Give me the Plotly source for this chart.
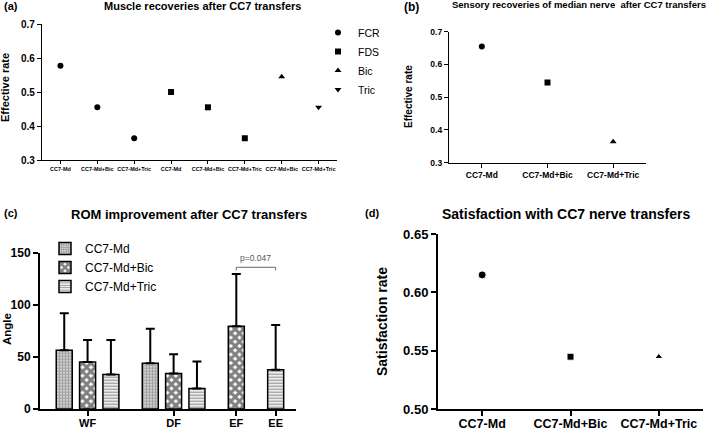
import plotly.graph_objects as go

# ---------------- data ----------------
a_categories = ["CC7-Md", "CC7-Md+Bic", "CC7-Md+Tric", "CC7-Md", "CC7-Md+Bic",
                "CC7-Md+Tric", "CC7-Md+Bic", "CC7-Md+Tric"]
a_series = ["FCR", "FDS", "Bic", "Tric"]
a_fcr = [0.577, 0.455, 0.364]
a_fds = [0.500, 0.455, 0.364]
a_bic = [0.545]
a_tric = [0.455]
a_yticks = [0.3, 0.4, 0.5, 0.6, 0.7]

b_categories = ["CC7-Md", "CC7-Md+Bic", "CC7-Md+Tric"]
b_values = [0.655, 0.545, 0.364]
b_yticks = [0.3, 0.4, 0.5, 0.6, 0.7]

c_groups = ["WF", "DF", "EF", "EE"]
c_series = ["CC7-Md", "CC7-Md+Bic", "CC7-Md+Tric"]
c_md = [56.4, 43.9, None, None]
c_md_sd = [35.6, 33.2, None, None]
c_bic = [45.2, 34.1, 79.3, None]
c_bic_sd = [21.0, 18.4, 50.3, None]
c_tric = [33.1, 19.7, None, 37.6]
c_tric_sd = [33.1, 25.8, None, 43.0]
c_yticks = [0, 50, 100, 150]
c_pvalue_text = "p=0.047"
c_pvalue_level = 136
c_pvalue_pair = ("EF", "EE")

d_categories = ["CC7-Md", "CC7-Md+Bic", "CC7-Md+Tric"]
d_values = [0.615, 0.545, 0.545]
d_yticks = [0.50, 0.55, 0.60, 0.65]

# ---------------- style ----------------
W, H = 709, 432
FONT = "Arial, Liberation Sans, sans-serif"
BAR_W = 16.0
PITCH_IN = 23.3
PITCH_OUT = 39.3


def px_x(v):
    return v / W


def px_y(v):
    return 1 - v / H


fig = go.Figure()

# ---------- panel (a) ----------
a_values = [a_fcr, a_fds, a_bic, a_tric]
a_symbols = ["circle", "square", "triangle-up", "triangle-down"]
offset = 0
for name, vals, sym in zip(a_series, a_values, a_symbols):
    xs = list(range(offset, offset + len(vals)))
    offset += len(vals)
    fig.add_trace(go.Scatter(
        x=xs, y=vals, mode="markers", name=name, legend="legend",
        marker=dict(symbol=sym, size=6, color="black", opacity=1),
        xaxis="x", yaxis="y"))

# ---------- panel (b) ----------
b_symbols = ["circle", "square", "triangle-up"]
fig.add_trace(go.Scatter(
    x=list(range(len(b_categories))), y=b_values, mode="markers", showlegend=False,
    marker=dict(symbol=b_symbols, size=6, color="black", opacity=1),
    xaxis="x2", yaxis="y2"))

# ---------- panel (c) ----------
c_data = {"CC7-Md": (c_md, c_md_sd), "CC7-Md+Bic": (c_bic, c_bic_sd),
          "CC7-Md+Tric": (c_tric, c_tric_sd)}
pos = {}
centers = []
cur = 0.0
for gi, g in enumerate(c_groups):
    members = [s for s in c_series if c_data[s][0][gi] is not None]
    xs = []
    for k, s in enumerate(members):
        if k == 0 and gi > 0:
            cur += PITCH_OUT
        elif k > 0:
            cur += PITCH_IN
        pos[(g, s)] = cur
        xs.append(cur)
    centers.append(sum(xs) / len(xs))

c_patterns = {
    "CC7-Md": dict(shape="+", size=3, solidity=0.8, fgcolor="#444", bgcolor="white"),
    "CC7-Md+Bic": dict(shape="x", size=6, solidity=0.75, fgcolor="black", bgcolor="white"),
    "CC7-Md+Tric": dict(shape="-", size=3, solidity=0.45, fgcolor="#222", bgcolor="white"),
}
for s in c_series:
    vals, sds = c_data[s]
    xs, ys, es = [], [], []
    for gi, g in enumerate(c_groups):
        if vals[gi] is not None:
            xs.append(pos[(g, s)])
            ys.append(vals[gi])
            es.append(sds[gi])
    fig.add_trace(go.Bar(
        x=xs, y=ys, name=s, legend="legend2", width=BAR_W,
        marker=dict(color="white", line=dict(color="black", width=1.5),
                    pattern=c_patterns[s]),
        error_y=dict(type="data", array=es, arrayminus=[0] * len(es), symmetric=False,
                     color="black", thickness=2, width=4.5),
        xaxis="x3", yaxis="y3"))

# ---------- panel (d) ----------
fig.add_trace(go.Scatter(
    x=list(range(len(d_categories))), y=d_values, mode="markers", showlegend=False,
    marker=dict(symbol=["circle", "square", "triangle-up"], size=[8, 7, 7],
                color="black", opacity=1),
    xaxis="x4", yaxis="y4"))


def axis(domain, lw=1.3, ticklen=4, fsize=10, **kw):
    d = dict(domain=domain, showline=True, linecolor="black", linewidth=lw,
             ticks="outside", ticklen=ticklen, tickwidth=lw, tickcolor="black",
             showgrid=False, zeroline=False, mirror=False,
             tickfont=dict(family=FONT, size=fsize, color="black", weight="bold"))
    d.update(kw)
    return d


last_center = pos[(c_groups[-1], [s for s in c_series if c_data[s][0][-1] is not None][-1])]

fig.update_layout(
    width=W, height=H, margin=dict(l=0, r=0, t=0, b=0, autoexpand=False),
    paper_bgcolor="white", plot_bgcolor="white", showlegend=True,
    font=dict(family=FONT, color="black"),
    barmode="overlay",
    xaxis=axis([px_x(42), px_x(337)], ticklen=3, fsize=5.5, anchor="y",
               range=[-0.5, len(a_categories) - 0.5],
               tickmode="array", tickvals=list(range(len(a_categories))), ticktext=a_categories),
    yaxis=axis([px_y(160), px_y(24)], anchor="x", range=[0.3, 0.7],
               tickmode="array", tickvals=a_yticks, tickformat=".1f"),
    xaxis2=axis([px_x(449), px_x(646)], fsize=8.5, anchor="y2",
                range=[-0.5, len(b_categories) - 0.5],
                tickmode="array", tickvals=list(range(len(b_categories))), ticktext=b_categories),
    yaxis2=axis([px_y(162.7), px_y(31.7)], fsize=8.5, anchor="x2", range=[0.3, 0.7],
                tickmode="array", tickvals=b_yticks, tickformat=".1f"),
    xaxis3=axis([px_x(40), px_x(296)], lw=2, ticklen=5, fsize=11, anchor="y3",
                range=[-24.2, last_center + 20.3], ticklabelstandoff=-2,
                tickmode="array", tickvals=centers, ticktext=c_groups),
    yaxis3=axis([px_y(409), px_y(252.7)], lw=2, ticklen=5, fsize=12, anchor="x3",
                range=[0, 150], tickmode="array", tickvals=c_yticks),
    xaxis4=axis([px_x(438), px_x(703)], lw=2, ticklen=5, fsize=12.5, anchor="y4",
                range=[-0.5, len(d_categories) - 0.5], ticklabelstandoff=-3,
                tickmode="array", tickvals=list(range(len(d_categories))), ticktext=d_categories),
    yaxis4=axis([px_y(409.3), px_y(234)], lw=2, ticklen=5, fsize=13, anchor="x4",
                range=[0.5, 0.65], tickmode="array", tickvals=d_yticks, tickformat=".2f"),
    legend=dict(x=px_x(318), y=px_y(18), xanchor="left", yanchor="top",
                font=dict(family=FONT, size=10.5, color="black"),
                bgcolor="rgba(0,0,0,0)", borderwidth=0, tracegroupgap=0),
    legend2=dict(x=px_x(45), y=px_y(234), xanchor="left", yanchor="top",
                 font=dict(family=FONT, size=12, color="black"),
                 bgcolor="rgba(0,0,0,0)", borderwidth=0, tracegroupgap=0),
)

# p-value bracket
xa = pos[(c_pvalue_pair[0], "CC7-Md+Bic")]
xb = pos[(c_pvalue_pair[1], "CC7-Md+Tric")]
tick = 3
fig.add_shape(type="path", xref="x3", yref="y3",
              path=f"M {xa} {c_pvalue_level - tick} L {xa} {c_pvalue_level} "
                   f"L {xb} {c_pvalue_level} L {xb} {c_pvalue_level - tick}",
              line=dict(color="#666", width=1))
fig.add_annotation(x=(xa + xb) / 2, y=c_pvalue_level, xref="x3", yref="y3",
                   text=c_pvalue_text, showarrow=False, yanchor="bottom", yshift=2,
                   font=dict(family=FONT, size=8.5, color="#555"))


def label(text, x, y, size, bold=True, angle=0, xanchor="center"):
    fig.add_annotation(x=px_x(x), y=px_y(y), xref="paper", yref="paper", text=text,
                       showarrow=False, textangle=angle, xanchor=xanchor, yanchor="middle",
                       font=dict(family=FONT, size=size, color="black",
                                 weight="bold" if bold else "normal"))


# panel letters
label("(a)", 2, 6, 11, xanchor="left")
label("(b)", 402, 7, 12, xanchor="left")
label("(c)", 2, 213, 11, xanchor="left")
label("(d)", 363, 213, 11, xanchor="left")
# titles
label("Muscle recoveries after CC7 transfers", 202, 6, 11)
label("Sensory recoveries of median nerve  after CC7 transfers", 579, 5, 9.5)
label("ROM improvement after CC7 transfers", 189, 215, 13)
label("Satisfaction with CC7 nerve transfers", 566, 214, 14)
# axis titles
label("Effective rate", 5, 88, 11, angle=-90)
label("Effective rate", 409, 97, 10, angle=-90)
label("Angle", 7, 329, 11.5, angle=-90)
label("Satisfaction rate", 382, 322, 14, angle=-90)

fig.write_html("out.html", config={"displayModeBar": False},
               post_script="document.body.style.margin='0px';document.body.style.overflow='hidden';")
